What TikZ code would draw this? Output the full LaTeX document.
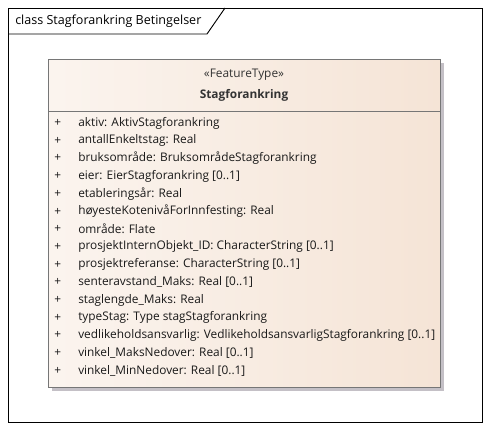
\documentclass[tikz,border=0pt]{standalone}
\usepackage{fontspec}
\setmainfont{Open Sans}
\usepackage{xcolor}
\usetikzlibrary{positioning, shadows}

\definecolor{classfill}{RGB}{245,228,214}
\definecolor{classline}{RGB}{118,118,118}
\definecolor{shadowgray}{RGB}{196,192,198}

\begin{document}
\begin{tikzpicture}[
      x=0.75pt, y=-0.75pt,
      frametitle/.style={anchor=west, inner sep=0pt, font=\fontsize{9.4}{11}\selectfont},
      classbox/.style={draw=classline, left color=white!60!classfill, right color=classfill,
        minimum width=294pt, minimum height=246pt, inner sep=0pt,
        drop shadow={shadow xshift=3pt, shadow yshift=-3pt, fill=shadowgray, opacity=1}},
      stereo/.style={inner sep=0pt, font=\fontsize{8.9}{10}\selectfont, text=black!80},
      attr/.style={anchor=west, inner sep=0pt, font=\fontsize{8.9}{10}\selectfont, text=black!90}
    ]
      \useasboundingbox (0,0) rectangle (490,430);

      % frame and its tab
      \draw[line width=0.7pt] (8,8) rectangle (482,422);
      \node[frametitle] (title) at (15,21) {class Stagforankring Betingelser};
      \draw[line width=0.7pt] (8,34) -- (207,34) -- (225,8);

      % the class
      \node[classbox] (cls) at (244,223) {};
      \draw[classline] (48,111) -- (440,111);
      \node[stereo] (stereotype) at (244,75) {«FeatureType»};
      \node[stereo, font=\fontsize{8.9}{10}\selectfont\bfseries] (name) at (244,95) {Stagforankring};

      % attributes
      \foreach \txt [count=\i] in {
          aktiv: AktivStagforankring,
          antallEnkeltstag: Real,
          bruksområde: BruksområdeStagforankring,
          eier: EierStagforankring [0..1],
          etableringsår: Real,
          høyesteKotenivåForInnfesting: Real,
          område: Flate,
          prosjektInternObjekt\_ID: CharacterString [0..1],
          prosjektreferanse: CharacterString [0..1],
          senteravstand\_Maks: Real [0..1],
          staglengde\_Maks: Real,
          typeStag: Type stagStagforankring,
          vedlikeholdsansvarlig: VedlikeholdsansvarligStagforankring [0..1],
          vinkel\_MaksNedover: Real [0..1],
          vinkel\_MinNedover: Real [0..1]} {
        \node[attr] (plus\i) at (54,{123+(\i-1)*17.7}) {+};
        \node[attr] (attr\i) at (78,{123+(\i-1)*17.7}) {\txt};
      }
    \end{tikzpicture}
\end{document}
